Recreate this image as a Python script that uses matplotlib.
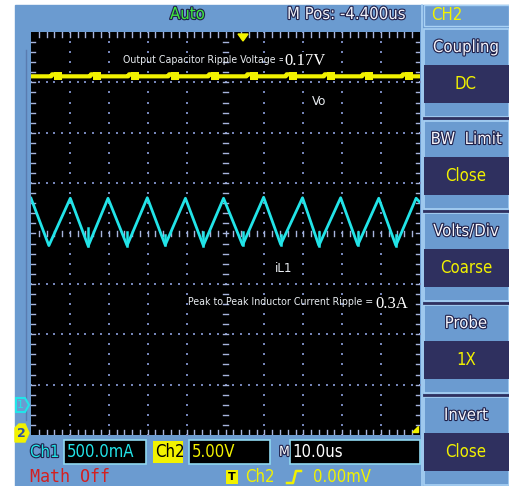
import numpy as np
import matplotlib
matplotlib.use('Agg')
import matplotlib.pyplot as plt
from matplotlib.patches import Rectangle, Polygon
import matplotlib.patheffects as pe

# ---- data (time in us, amplitude in divisions) ----
# inductor current iL1 (CH1) - triangle vertices
il_t = [0, 4.6, 10.1, 14.7, 19.8, 24.7, 29.9, 34.5, 39.7, 44.3, 49.5,
        54.4, 59.8, 64.2, 69.8, 74.0, 79.6, 84.0, 89.4, 93.8, 99.0, 100]
il_v = [0.70, -0.24, 0.70, -0.25, 0.70, -0.24, 0.71, -0.23, 0.70, -0.24, 0.70,
        -0.23, 0.72, -0.22, 0.71, -0.24, 0.71, -0.23, 0.70, -0.24, 0.70, 0.62]
# small switching spikes at the current valleys
spike_t = [14.7, 24.7, 34.5, 44.3, 54.4, 64.2, 74.0, 84.0, 93.8]
spike_top = [0.11, 0.03, -0.03, 0.03, 0.03, -0.03, 0.03, 0.03, -0.03]

# output voltage Vo (CH2) - flat with a bump every switching period
vo_level = 3.12
vo_bump_t = [7.0, 17.0, 26.8, 37.1, 47.4, 57.2, 67.3, 77.1, 86.9, 97.2]

# scope readouts
top_labels = ['Auto', 'M Pos: -4.400us', 'CH2']
menu_titles = ['Coupling', 'BW  Limit', 'Volts/Div', 'Probe', 'Invert']
menu_values = ['DC', 'Close', 'Coarse', '1X', 'Close']
ch1_scale = '500.0mA'
ch2_scale = '5.00V'
time_scale = '10.0us'
trig_level = '0.00mV'

W, H = 509, 486
BG = '#6b9bd0'
NAVY = '#2f305f'
LIGHT = '#a9d2f5'
CYAN = '#22e4e8'
YEL = '#f2f200'
UI_FONT = 'DejaVu Sans'

fig = plt.figure(figsize=(W / 100, H / 100), dpi=100)
fig.patch.set_facecolor('white')
bg = fig.add_axes([0, 0, 1, 1])
bg.set_xlim(0, W)
bg.set_ylim(H, 0)
bg.axis('off')

outline = [pe.withStroke(linewidth=1.6, foreground='#20204a')]


def ui_text(x, y, s, color, size=12, ha='left', fx=True, family=UI_FONT, **kw):
    bg.text(x, y, s, color=color, fontsize=size, ha=ha, va='center',
            family=family, stretch='condensed',
            path_effects=outline if fx else None, **kw)


# blue frame
bg.add_patch(Rectangle((15, 5), W - 15, H - 5, color=BG, zorder=0))
bg.plot([26, 26], [50, 420], color='#5a7cb0', lw=1, zorder=1)

# top readouts
ui_text(170, 14, top_labels[0], '#3ee83e')
ui_text(287, 14, top_labels[1], '#eef0f8')
bg.add_patch(Rectangle((424, 5), 85, 21, fc=BG, ec=LIGHT, lw=1))
ui_text(431, 15, top_labels[2], YEL, fx=False)

# right hand menu
bg.plot([422, 422], [5, 486], color=LIGHT, lw=1.2)
y0s = [29, 121, 213, 305, 397]
for y0, title, val in zip(y0s, menu_titles, menu_values):
    bg.add_patch(Rectangle((424, y0), 85, 88, fc=BG, ec=LIGHT, lw=1.2, zorder=2))
    bg.add_patch(Rectangle((424, y0 + 36), 85, 38, fc=NAVY, ec='none', zorder=3))
    bg.plot([424, 509], [y0 + 89.5, y0 + 89.5], color=NAVY, lw=2, zorder=3)
    ui_text(466, y0 + 18, title, '#f4f4fa', ha='center', zorder=4)
    ui_text(466, y0 + 55, val, YEL, ha='center', fx=False, zorder=4)

# bottom status bar
ui_text(30, 452, 'Ch1', CYAN)
bg.add_patch(Rectangle((64, 440), 82, 24, fc='black', ec='#8fd8f0', lw=1.2))
ui_text(67, 452, ch1_scale, CYAN, fx=False)
bg.add_patch(Rectangle((153, 441), 30, 22, fc=YEL, ec='none'))
ui_text(155, 452, 'Ch2', 'black', fx=False)
bg.add_patch(Rectangle((189, 440), 81, 24, fc='black', ec='#8fd8f0', lw=1.2))
ui_text(192, 452, ch2_scale, YEL, fx=False)
ui_text(279, 452, 'M', 'white', size=10)
bg.add_patch(Rectangle((290, 440), 130, 24, fc='black', ec='#8fd8f0', lw=1.2))
ui_text(292, 452, time_scale, 'white', fx=False)

ui_text(30, 477, 'Math Off', '#d42020', fx=False, family='DejaVu Sans Mono')
bg.add_patch(Rectangle((226, 470), 12, 14, fc=YEL, ec='none'))
bg.text(232, 477, 'T', color='black', fontsize=8, ha='center', va='center',
        weight='bold')
ui_text(245, 477, 'Ch2', YEL, fx=False)
bg.plot([287, 293, 296, 301], [483, 483, 471, 471], color=YEL, lw=1.8)
ui_text(313, 477, trig_level, YEL, fx=False)

# ---- screen ----
ax = fig.add_axes([31 / W, (H - 435) / H, 389 / W, 403 / H])
ax.set_facecolor('black')
ax.set_xlim(0, 100)
ax.set_ylim(-4, 4)
ax.set_xticks([])
ax.set_yticks([])
for s in ax.spines.values():
    s.set_visible(False)

dot = '#7585b8'
ys = np.arange(-4, 4.01, 0.2)
xs = np.arange(0, 100.1, 2)
for gx in range(10, 100, 10):
    if gx != 50:
        ax.scatter(np.full(len(ys), gx), ys, s=1.2, marker='s', color=dot, lw=0)
for gy in [-3, -2, -1, 1, 2, 3]:
    ax.scatter(xs, np.full(len(xs), gy), s=1.2, marker='s', color=dot, lw=0)
tick = '#a7b4dc'
for x in xs[1:-1]:
    ax.plot([x, x], [4, 3.9], color=tick, lw=1)
    ax.plot([x, x], [-4, -3.9], color=tick, lw=1)
    ax.plot([x, x], [-0.05, 0.05], color=tick, lw=1)
for y in ys[1:-1]:
    ax.plot([0, 0.9], [y, y], color=tick, lw=1)
    ax.plot([100, 99.1], [y, y], color=tick, lw=1)
    ax.plot([49.4, 50.6], [y, y], color=tick, lw=1)

# traces
ax.plot(il_t, il_v, color=CYAN, lw=2, solid_joinstyle='round', zorder=5)
for t, top, v in zip(spike_t, spike_top, il_v[3::2]):
    ax.plot([t, t], [v, top], color=CYAN, lw=1.8, zorder=5)

vo_t = [0]
vo_v = [vo_level]
for p in vo_bump_t:
    vo_t += [p - 1.8, p - 1.6, p - 0.5, p + 0.5, p + 0.7]
    vo_v += [vo_level, vo_level + 0.04, vo_level + 0.04, vo_level - 0.02, vo_level]
vo_t.append(100)
vo_v.append(vo_level)
ax.plot(vo_t, vo_v, color=YEL, lw=3, zorder=5)
ax.scatter(vo_bump_t, [vo_level] * len(vo_bump_t), marker='s', s=34,
           color=YEL, lw=0, zorder=5)

# ---- overlay for annotations drawn over the screen ----
top = fig.add_axes([0, 0, 1, 1])
top.set_xlim(0, W)
top.set_ylim(H, 0)
top.axis('off')

ann = dict(color='#e8ecf0', fontsize=7.6, va='center', family='DejaVu Sans',
           stretch='condensed')
top.text(123, 60, 'Output Capacitor Ripple Voltage =', **ann)
top.text(284, 61, '0.17V', color='white', fontsize=12, va='center',
         family='Liberation Serif',
         bbox=dict(fc='black', ec='none', pad=1))
top.text(312, 101, 'Vo', **dict(ann, fontsize=9.5))
top.text(275, 268, 'iL1', **dict(ann, fontsize=9.5))
top.text(188, 302, 'Peak to Peak Inductor Current Ripple =', **ann)
top.text(375, 304, '0.3A', color='white', fontsize=12, va='center',
         family='Liberation Serif',
         bbox=dict(fc='black', ec='none', pad=1))

# trigger position marker and level marker
top.add_patch(Polygon([[238, 34], [248, 34], [243, 41]], color=YEL))
top.add_patch(Polygon([[412, 432], [418, 432], [418, 426]], color=YEL))

# channel ground markers
top.add_patch(Polygon([[16, 398], [25, 398], [29, 405], [25, 412], [16, 412]],
                      fc=BG, ec=CYAN, lw=1.5))
top.text(20.5, 405, '1', color=CYAN, fontsize=8, ha='center', va='center')
top.add_patch(Polygon([[15, 428], [19, 424], [25, 424], [29, 433], [25, 442], [15, 442]],
                      color=YEL))
top.text(21, 433, '2', color='#3050a0', fontsize=9, ha='center', va='center',
         weight='bold')

fig.savefig('out.png', dpi=100)
